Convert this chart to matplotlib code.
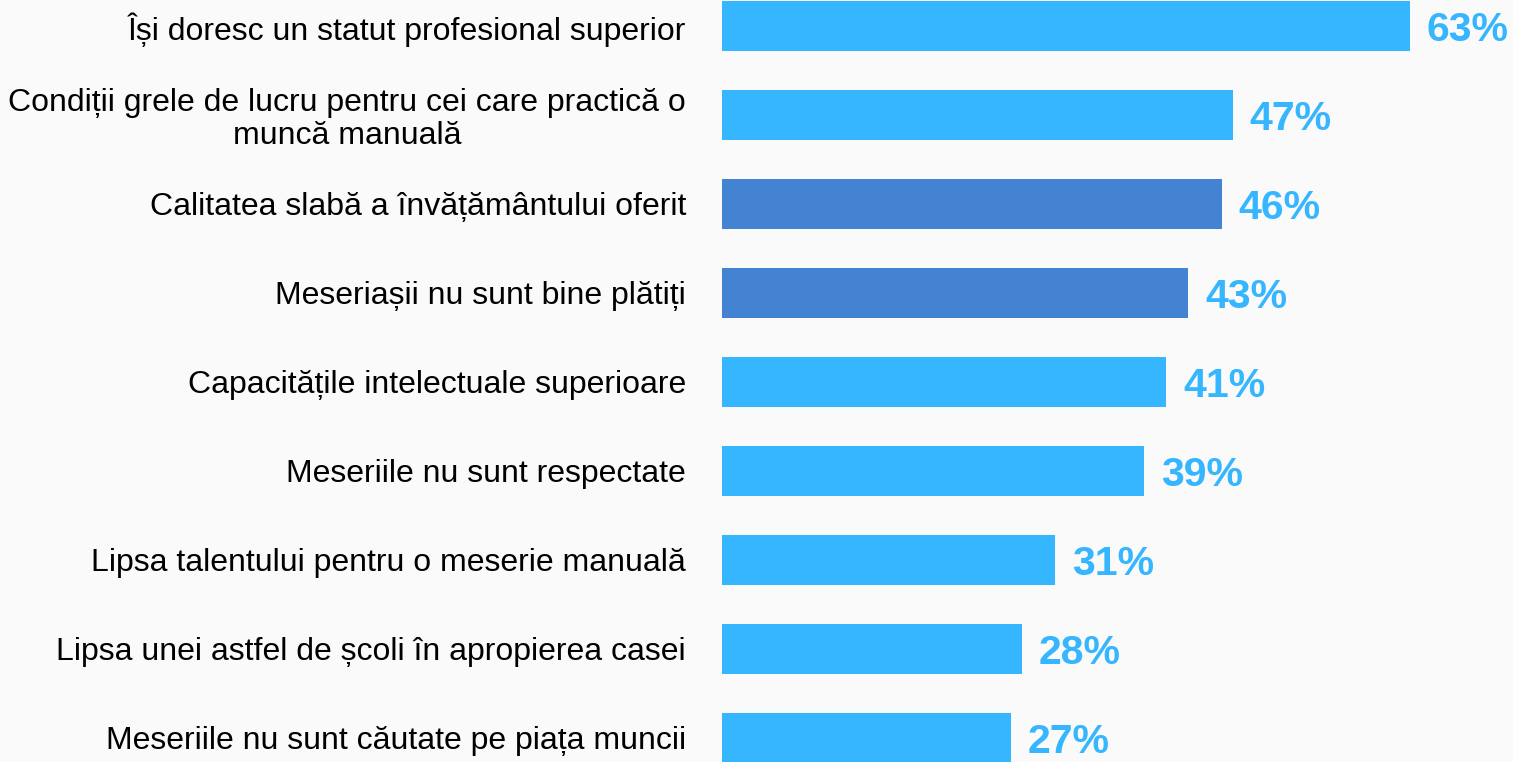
import matplotlib.pyplot as plt

categories = [
    "Își doresc un statut profesional superior",
    "Condiții grele de lucru pentru cei care practică o\nmuncă manuală",
    "Calitatea slabă a învățământului oferit",
    "Meseriașii nu sunt bine plătiți",
    "Capacitățile intelectuale superioare",
    "Meseriile nu sunt respectate",
    "Lipsa talentului pentru o meserie manuală",
    "Lipsa unei astfel de școli în apropierea casei",
    "Meseriile nu sunt căutate pe piața muncii",
]
values = [63, 47, 46, 43, 41, 39, 31, 28, 27]
highlight = [False, False, True, True, False, False, False, False, False]

light = "#35b6fe"
dark = "#4483d1"
bg = "#fafafa"

fig = plt.figure(figsize=(15.13, 7.62), dpi=100)
fig.patch.set_facecolor(bg)
ax = fig.add_axes([722 / 1513, 0, 791 / 1513, 1])
ax.set_facecolor(bg)

y = list(range(len(values)))
colors = [dark if h else light for h in highlight]
ax.barh(y, values, height=0.56, color=colors)

for yi, v in zip(y, values):
    ax.annotate(f"{v}%", (v, yi), xytext=(12, -3), textcoords="offset points",
                ha="left", va="center", fontsize=29.5, fontweight="bold",
                family="Liberation Sans", color=light)

ax.set_xlim(0.9, 72.3)
ax.set_ylim(8.27, -0.292)
ax.set_yticks(y)
ax.set_yticklabels(categories, fontsize=23, family="Liberation Sans",
                   multialignment="center", linespacing=1.12)
ax.tick_params(axis="y", length=0, pad=26)
ax.set_xticks([])
for s in ax.spines.values():
    s.set_visible(False)

fig.savefig("out.png", dpi=100, facecolor=bg)
